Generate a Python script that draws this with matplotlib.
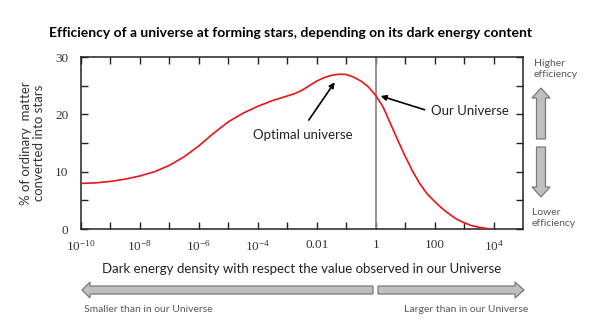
import numpy as np
import matplotlib.pyplot as plt
from matplotlib.patches import FancyArrow
from matplotlib.ticker import FixedLocator, NullFormatter

# curve: log10(dark energy ratio) vs % of matter into stars
log_density = [-10.0, -9.5, -9.0, -8.5, -8.0, -7.5, -7.0, -6.5, -6.0, -5.5,
               -5.0, -4.5, -4.0, -3.5, -3.0, -2.75, -2.5, -2.25, -2.0, -1.75,
               -1.5, -1.25, -1.0, -0.75, -0.5, -0.25, 0.0, 0.25, 0.5, 0.75,
               1.0, 1.25, 1.5, 1.75, 2.0, 2.25, 2.5, 2.75, 3.0, 3.25,
               3.5, 3.75, 3.9]
star_pct = [7.95, 8.05, 8.3, 8.7, 9.25, 10.0, 11.1, 12.6, 14.5, 16.7,
            18.7, 20.2, 21.4, 22.4, 23.2, 23.6, 24.2, 25.0, 25.8, 26.4,
            26.8, 27.0, 26.95, 26.5, 25.8, 24.8, 23.3, 21.3, 18.4, 15.5,
            12.7, 10.1, 7.9, 6.1, 4.8, 3.6, 2.6, 1.7, 1.1, 0.6,
            0.3, 0.1, 0.0]

xtick_exp = [-10, -8, -6, -4, -2, 0, 2, 4]
xtick_labels = [r'$10^{-10}$', r'$10^{-8}$', r'$10^{-6}$', r'$10^{-4}$',
                '0.01', '1', '100', r'$10^{4}$']
ytick_vals = [0, 10, 20, 30]

plt.rcParams['font.family'] = ['Lato', 'DejaVu Sans']
plt.rcParams['mathtext.fontset'] = 'custom'
plt.rcParams['mathtext.rm'] = 'Liberation Serif'
plt.rcParams['mathtext.it'] = 'Liberation Serif'

fig = plt.figure(figsize=(5.97, 3.26), dpi=100)
ax = fig.add_axes([81 / 597, 1 - 229 / 326, (523 - 81) / 597, (229 - 57) / 326])

dens = 10.0 ** np.array(log_density)
ax.plot(dens, star_pct, color='#e8141b', lw=1.2, zorder=3)
ax.axvline(1, color='#8c8c8c', lw=1.3, zorder=2)

ax.set_xscale('log')
ax.set_xlim(1e-10, 1e5)
ax.set_ylim(0, 30)
ax.xaxis.set_major_locator(FixedLocator([10.0 ** e for e in xtick_exp]))
ax.xaxis.set_minor_locator(FixedLocator([10.0 ** e for e in range(-9, 5, 2)]))
ax.xaxis.set_minor_formatter(NullFormatter())
ax.set_xticklabels(xtick_labels)
ax.set_yticks(ytick_vals)
ax.yaxis.set_minor_locator(FixedLocator([5, 15, 25]))
ax.tick_params(which='both', direction='in', length=5, width=1,
               top=True, right=True, color='#222222')
ax.tick_params(axis='x', pad=7)
ax.tick_params(axis='y', pad=9)
for lab in ax.get_xticklabels() + ax.get_yticklabels():
    lab.set_fontfamily('Liberation Serif')
    lab.set_fontsize(9.5)
    lab.set_color('#333333')
for sp in ax.spines.values():
    sp.set_linewidth(1.1)
    sp.set_color('#222222')

ax.set_xlabel('Dark energy density with respect the value observed in our Universe',
              fontsize=9.5, color='#222222', labelpad=7)
ax.set_ylabel('% of ordinary  matter\nconverted into stars', fontsize=9.5,
              color='#333333', labelpad=7, linespacing=1.1)

arr = dict(arrowstyle='-|>', color='black', lw=1.2, shrinkA=0, shrinkB=0,
           mutation_scale=8)
ax.annotate('', xy=(10 ** -1.39, 25.6), xytext=(10 ** -2.27, 19.0), arrowprops=arr)
ax.text(10 ** -2.47, 16.4, 'Optimal universe', fontsize=9.5, color='#222222',
        ha='center', va='center')
ax.annotate('', xy=(10 ** 0.17, 23.2), xytext=(10 ** 1.66, 20.8), arrowprops=arr)
ax.text(10 ** 1.89, 20.6, 'Our Universe', fontsize=9.5, color='#222222',
        ha='left', va='center')

fig.text(0.487, 1 - 33 / 326, 'Efficiency of a universe at forming stars, depending on its dark energy content',
         ha='center', va='center', fontsize=10, fontweight='bold', color='black')

# overlay in pixel units for the side and bottom block arrows
ov = fig.add_axes([0, 0, 1, 1])
ov.set_xlim(0, 597)
ov.set_ylim(326, 0)
ov.axis('off')
arrow_kw = dict(length_includes_head=True, facecolor='#bfbfbf',
                edgecolor='#7a7a7a', lw=0.9)
ov.add_patch(FancyArrow(541, 139, 0, -51, width=9, head_width=18, head_length=10, **arrow_kw))
ov.add_patch(FancyArrow(541, 147, 0, 50, width=9, head_width=18, head_length=10, **arrow_kw))
ov.add_patch(FancyArrow(373, 290, -291, 0, width=8, head_width=16, head_length=8, **arrow_kw))
ov.add_patch(FancyArrow(378, 290, 146, 0, width=8, head_width=16, head_length=9, **arrow_kw))

side_kw = dict(fontsize=7.5, color='#595959', linespacing=1.25)
ov.text(534, 69, 'Higher\nefficiency', ha='left', va='center', **side_kw)
ov.text(532, 218, 'Lower\nefficiency', ha='left', va='center', **side_kw)
ov.text(84, 309, 'Smaller than in our Universe', ha='left', va='center', **side_kw)
ov.text(528, 310, 'Larger than in our Universe', ha='right', va='center', **side_kw)

fig.savefig('out.png', dpi=100, facecolor='white')
